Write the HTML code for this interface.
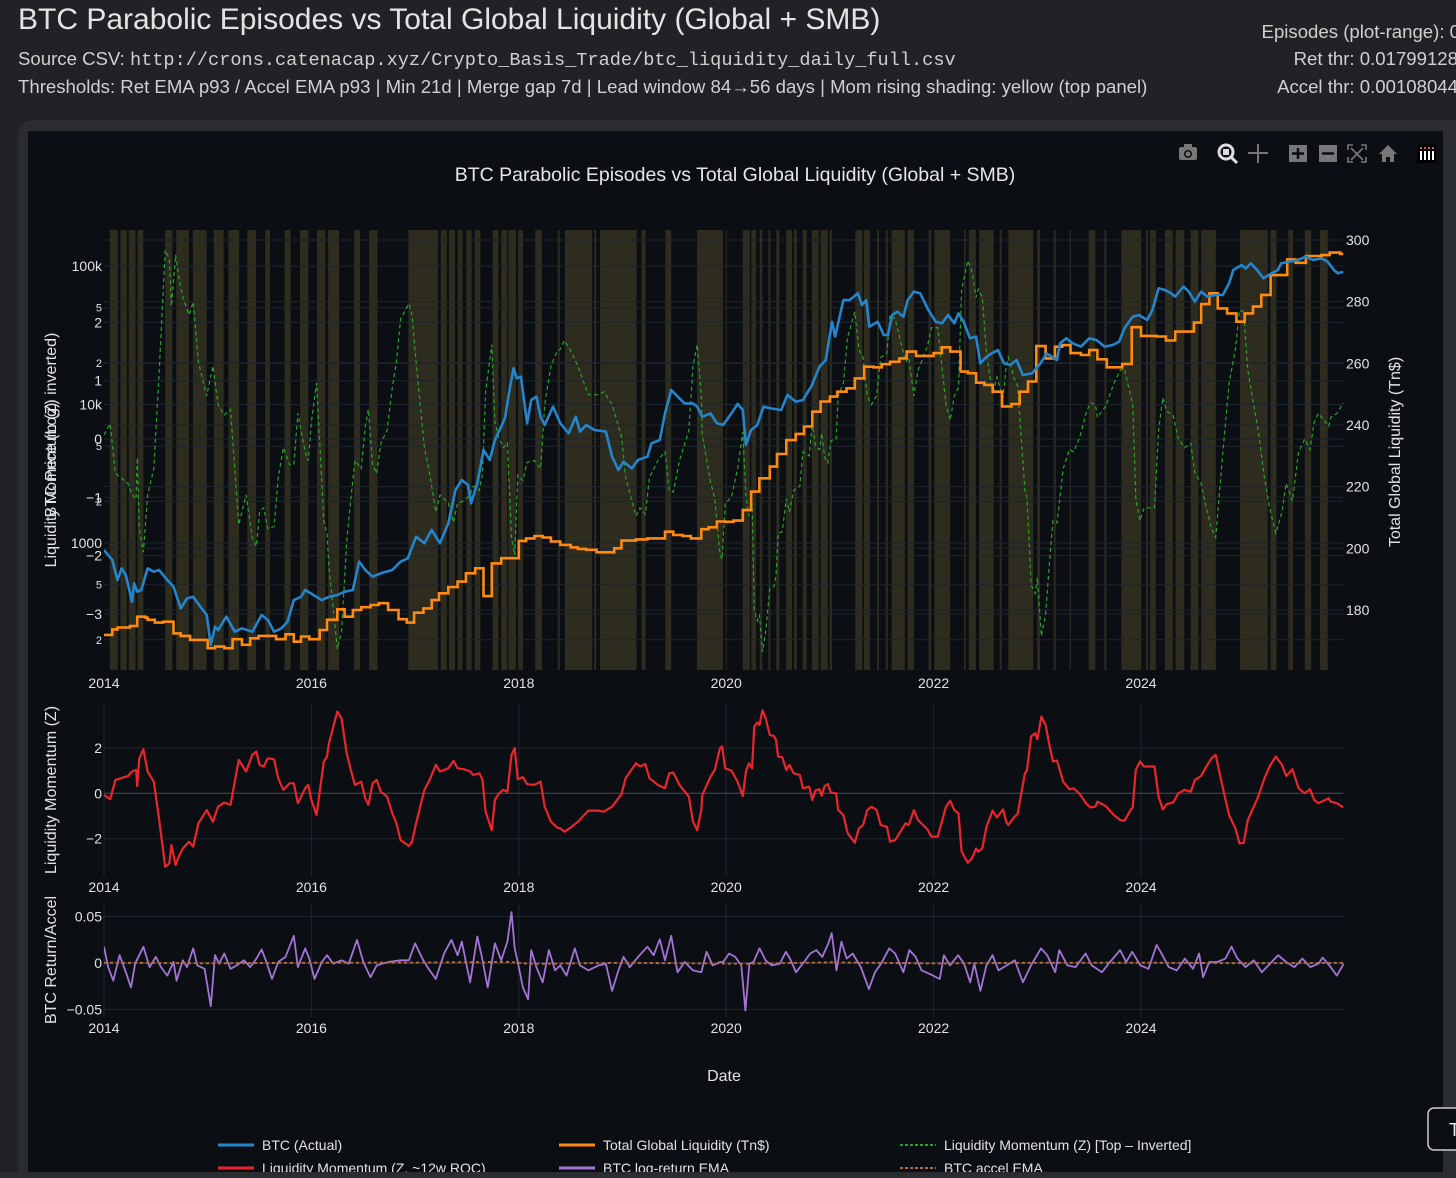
<!DOCTYPE html>
<html><head><meta charset="utf-8"><style>
html,body{margin:0;padding:0;background:#212226;width:1456px;height:1178px;overflow:hidden;font-family:"Liberation Sans",sans-serif;}
.hdr{position:absolute;color:#e4e4e4;white-space:nowrap;}
.mono{font-family:"Liberation Mono",monospace;}
</style></head><body>
<div class="hdr" style="left:18px;top:3px;font-size:30px;">BTC Parabolic Episodes vs Total Global Liquidity (Global + SMB)</div>
<div class="hdr" style="left:18px;top:48px;font-size:18.6px;color:#d0d0d0;">Source CSV: <span class="mono">http://crons.catenacap.xyz/Crypto_Basis_Trade/btc_liquidity_daily_full.csv</span></div>
<div class="hdr" style="left:18px;top:76px;font-size:18.6px;color:#d0d0d0;">Thresholds: Ret EMA p93 / Accel EMA p93 | Min 21d | Merge gap 7d | Lead window 84→56 days | Mom rising shading: yellow (top panel)</div>
<div class="hdr" style="right:-4px;top:21px;font-size:18.6px;color:#d0d0d0;text-align:right;">Episodes (plot-range): 0</div>
<div class="hdr" style="right:-2px;top:48px;font-size:18.6px;color:#d0d0d0;text-align:right;">Ret thr: 0.01799128</div>
<div class="hdr" style="right:-2px;top:76px;font-size:18.6px;color:#d0d0d0;text-align:right;">Accel thr: 0.00108044</div>

<svg id="chart" width="1456" height="1178" style="position:absolute;left:0;top:0;" xmlns="http://www.w3.org/2000/svg">
<rect x="18" y="120" width="1460" height="1080" rx="14" fill="#2a2c30"/>
<rect x="28" y="131" width="1415" height="1041" fill="#0b0f14"/>
<defs>
<clipPath id="cTop"><rect x="104" y="230" width="1240" height="440"/></clipPath>
<clipPath id="cMid"><rect x="104" y="703" width="1240" height="174"/></clipPath>
<clipPath id="cBot"><rect x="104" y="905" width="1240" height="112"/></clipPath>
</defs>
<text x="735" y="181" text-anchor="middle" font-size="19.5" fill="#e6e6e6">BTC Parabolic Episodes vs Total Global Liquidity (Global + SMB)</text>
<g id="toolbar" fill="#777">
 <g><rect x="1179" y="147" width="18" height="13" rx="2"/><rect x="1184" y="144" width="8" height="4"/><circle cx="1188" cy="154" r="4" fill="#0b0f14"/><circle cx="1188" cy="154" r="2.5"/></g>
 <g><circle cx="1226" cy="152" r="7" fill="none" stroke="#ddd" stroke-width="3"/><rect x="1223" y="149" width="6" height="6" fill="#ddd"/><line x1="1231" y1="157" x2="1237" y2="163" stroke="#ddd" stroke-width="3"/></g>
 <g><line x1="1258" y1="144" x2="1258" y2="163" stroke="#777" stroke-width="2"/><line x1="1248" y1="153" x2="1268" y2="153" stroke="#777" stroke-width="2"/></g>
 <g><rect x="1289" y="145" width="18" height="17"/><path d="M1298 148v11M1292 153.5h12" stroke="#0b0f14" stroke-width="2.5"/></g>
 <g><rect x="1319" y="145" width="18" height="17"/><path d="M1322 153.5h12" stroke="#0b0f14" stroke-width="2.5"/></g>
 <g fill="none" stroke="#777" stroke-width="1.6"><path d="M1348 150v-5h5M1361 145h5v5M1366 157v5h-5M1353 162h-5v-5M1351 148l12 12M1363 148l-12 12"/></g>
 <g><path d="M1379 154l9-9 9 9h-3v8h-4v-5h-4v5h-4v-8z"/></g>
 <g><rect x="1417" y="144" width="19" height="19" fill="#000"/><rect x="1420" y="151" width="2" height="9" fill="#fff"/><rect x="1424" y="151" width="2" height="9" fill="#fff"/><rect x="1428" y="151" width="2" height="9" fill="#fff"/><rect x="1432" y="151" width="2" height="9" fill="#fff"/><rect x="1420" y="147" width="2" height="2" fill="#e0457b"/><rect x="1424" y="147" width="2" height="2" fill="#e0457b"/><rect x="1428" y="147" width="2" height="2" fill="#e0457b"/><rect x="1432" y="147" width="2" height="2" fill="#e0457b"/></g>
</g>
<g id="shading" clip-path="url(#cTop)"></g>
<g id="grid"></g>
<g id="series"></g>
<g id="axes"></g>
<g id="legend"></g>
<rect x="0" y="1172" width="1456" height="6" fill="#2a2c30"/>
<g><rect x="1428" y="1108" width="40" height="42" rx="6" fill="#0b0f14" stroke="#ccc" stroke-width="1.5"/><text x="1449" y="1136" font-size="18" fill="#eee">T</text></g>
</svg>
<script>
// ---- data ----
const years = [2014,2016,2018,2020,2022,2024];
const btcTickVals = [1000,10000,100000];
const btcTickLabels = ["1000","10k","100k"];
const btcMinorVals = [200,500,2000,5000,20000,50000];
const btcMinorLabels = ["2","5","2","5","2","5"];
const momTopTicks = [2,1,0,-1,-2,-3];
const liqTicks = [180,200,220,240,260,280,300];
const momMidTicks = [2,0,-2];
const retTicks = [0.05,0,-0.05];
const retTickLabels = ["0.05","0","−0.05"];

const btcX = [2014.00,2014.08,2014.13,2014.17,2014.21,2014.27,2014.29,2014.32,2014.36,2014.42,
2014.48,2014.53,2014.61,2014.67,2014.74,2014.80,2014.86,2014.93,2014.99,2015.03,
2015.07,2015.10,2015.18,2015.26,2015.33,2015.43,2015.52,2015.58,2015.64,2015.71,
2015.77,2015.83,2015.90,2015.94,2016.02,2016.10,2016.17,2016.25,2016.32,2016.40,
2016.46,2016.52,2016.59,2016.67,2016.78,2016.86,2016.93,2017.01,2017.09,2017.16,
2017.24,2017.32,2017.39,2017.45,2017.51,2017.54,2017.60,2017.66,2017.72,2017.77,
2017.83,2017.87,2017.91,2017.95,2017.98,2018.02,2018.08,2018.12,2018.17,2018.21,
2018.25,2018.33,2018.40,2018.48,2018.55,2018.59,2018.65,2018.73,2018.84,2018.90,
2018.96,2019.01,2019.09,2019.15,2019.24,2019.28,2019.36,2019.41,2019.47,2019.55,
2019.60,2019.68,2019.72,2019.77,2019.85,2019.91,
2019.97,2020.05,2020.11,2020.16,2020.19,2020.24,2020.30,2020.36,2020.43,2020.53,
2020.59,2020.67,2020.74,2020.82,2020.90,2020.96,2021.02,2021.05,2021.13,2021.19,
2021.23,2021.27,2021.31,2021.35,2021.38,2021.46,2021.52,2021.56,2021.60,2021.65,
2021.71,2021.75,2021.81,2021.87,2021.95,2022.02,2022.08,2022.14,2022.20,2022.24,
2022.29,2022.35,2022.41,2022.45,2022.51,2022.56,2022.62,2022.68,2022.74,2022.80,
2022.86,2022.95,2023.03,2023.09,2023.19,2023.22,2023.28,2023.34,2023.42,2023.50,
2023.57,2023.65,2023.73,2023.79,2023.84,2023.92,2023.98,2024.06,2024.11,2024.17,
2024.23,2024.29,2024.33,2024.41,2024.46,2024.52,2024.58,2024.64,2024.72,2024.79,
2024.85,2024.89,2024.97,2025.01,2025.06,2025.12,2025.18,2025.26,2025.32,2025.35,
2025.43,2025.51,2025.59,2025.66,2025.74,2025.80,2025.86,2025.90,2025.95];
const btcV = [890,753,541,656,588,377,512,445,458,656,
621,638,541,484,337,398,409,347,302,183,
249,235,294,229,242,229,302,278,229,242,
270,387,409,458,421,387,409,421,445,458,
733,638,571,604,638,733,775,1111,995,1242,
995,1387,2414,2851,2624,1934,2698,4694,3981,5546,
6918,8166,12735,18245,15449,15885,7311,10765,11400,8166,
7112,9638,7311,6194,8166,6368,7112,6546,6368,4200,
3365,3866,3459,3981,4200,5248,5546,8630,12735,11066,
10186,10186,9638,8166,8630,7311,
7112,8630,10093,9120,5105,6546,7112,9638,9376,9120,
11722,10471,10765,13459,18750,20941,39628,30903,56754,56754,
60117,63533,52240,56754,36475,39628,31769,31769,44259,46774,
43053,56754,65313,63533,48084,39628,38548,44259,38548,45499,
39628,30061,30903,19815,22131,23388,24717,19815,19275,20941,
16331,16788,19815,23388,20941,27669,30061,27669,26182,30061,
29242,26182,26915,28445,35481,43053,44259,40738,48084,69024,
67143,63533,60117,70958,65313,55208,65313,60117,61802,61802,
74989,93541,101625,96161,104472,93541,81470,88512,93541,104472,
107399,110408,116681,110408,113501,107399,93541,88512,90991];

const liqX = [2014.00,2014.08,2014.13,2014.25,2014.32,2014.40,2014.42,2014.49,2014.57,2014.67,
2014.74,2014.83,2015.00,2015.07,2015.16,2015.24,2015.33,2015.41,2015.49,2015.66,
2015.75,2015.83,2015.90,2015.98,2016.08,2016.15,2016.25,2016.32,2016.40,2016.48,
2016.57,2016.65,2016.74,2016.84,2016.92,2016.99,2017.08,2017.16,2017.23,2017.32,
2017.41,2017.49,2017.58,2017.66,2017.74,2017.83,2018.00,2018.07,2018.15,2018.23,
2018.31,2018.40,2018.50,2018.57,2018.65,2018.75,2018.92,2018.99,2019.13,2019.24,
2019.41,2019.49,2019.58,2019.66,2019.76,2019.83,2019.91,
2019.99,2020.07,2020.16,2020.24,2020.32,2020.42,2020.49,2020.58,2020.67,2020.75,
2020.83,2020.91,2021.00,2021.07,2021.16,2021.24,2021.33,2021.42,2021.50,2021.58,
2021.67,2021.74,2021.83,2021.91,2022.00,2022.08,2022.16,2022.26,2022.33,2022.41,
2022.49,2022.57,2022.66,2022.75,2022.83,2022.91,2022.99,2023.08,2023.17,2023.24,
2023.32,2023.42,2023.50,2023.58,2023.67,2023.82,2023.91,2024.00,2024.15,2024.24,
2024.33,2024.41,2024.51,2024.58,2024.66,2024.74,2024.83,2024.92,2025.00,2025.08,
2025.16,2025.25,2025.41,2025.49,2025.59,2025.74,2025.82,2025.92];
const liqV = [171.9,173.7,174.3,174.8,177.8,177.5,176.8,175.9,176.2,172.4,
171.6,170.3,167.6,168.1,167.6,170.5,168.7,170.8,171.6,170.5,
172.1,169.7,171.4,170.5,173.5,176.8,180.2,177.8,180.0,180.9,
181.6,182.2,180.0,177.0,175.9,179.1,180.5,183.2,185.4,187.4,
189.2,191.9,193.5,184.5,195.1,196.8,202.4,203.2,204.0,203.5,
202.2,201.1,200.3,199.8,199.5,198.7,200.0,202.5,202.9,203.2,
205.4,204.3,204.0,203.2,206.2,206.8,208.7,
208.6,209.0,212.4,218.4,222.7,226.5,230.6,235.1,237.1,239.5,
244.3,247.6,249.2,250.8,251.9,255.1,258.9,258.7,259.7,260.5,
261.6,263.8,262.4,262.4,263.3,265.2,263.8,257.3,256.8,253.7,
253.0,250.8,246.0,246.8,250.8,254.1,265.6,261.6,265.4,265.9,
263.3,262.7,264.3,261.3,258.7,259.8,271.7,268.9,268.7,267.4,
270.3,270.3,273.2,279.2,282.7,277.8,276.2,273.5,276.2,278.4,
282.2,288.6,293.7,292.6,294.8,295.1,295.9,295.5];
const liqEnd = 2025.95;

const momX = [2014.00,2014.06,2014.11,2014.23,2014.27,2014.31,2014.32,2014.34,2014.38,2014.42,
2014.48,2014.53,2014.59,2014.63,2014.65,2014.69,2014.72,2014.76,2014.82,2014.86,
2014.91,2014.99,2015.05,2015.10,2015.16,2015.22,2015.30,2015.37,2015.43,2015.47,
2015.50,2015.54,2015.58,2015.64,2015.68,2015.73,2015.79,2015.83,2015.87,2015.94,
2015.97,2016.00,2016.05,2016.12,2016.15,2016.17,2016.25,2016.29,2016.34,2016.38,
2016.42,2016.48,2016.52,2016.55,2016.59,2016.63,2016.67,2016.73,2016.78,2016.82,
2016.86,2016.94,2016.97,2017.01,2017.09,2017.14,2017.20,2017.24,2017.32,2017.37,
2017.41,2017.47,2017.53,2017.56,2017.62,2017.65,2017.68,2017.74,2017.77,2017.81,
2017.85,2017.89,2017.93,2017.96,2017.99,2018.04,2018.08,2018.15,2018.21,2018.25,
2018.31,2018.37,2018.40,2018.44,2018.50,2018.57,2018.67,2018.76,2018.82,2018.90,
2018.99,2019.03,2019.13,2019.17,2019.22,2019.26,2019.34,2019.41,2019.45,2019.49,
2019.55,2019.64,2019.68,2019.72,2019.76,2019.77,2019.85,2019.89,2019.94,
2019.96,2019.99,2020.05,2020.11,2020.16,2020.19,2020.22,2020.25,2020.27,2020.30,
2020.32,2020.35,2020.38,2020.42,2020.46,2020.48,2020.50,2020.54,2020.58,2020.61,
2020.65,2020.71,2020.74,2020.80,2020.83,2020.86,2020.90,2020.92,2020.95,2020.98,
2021.01,2021.06,2021.08,2021.13,2021.17,2021.24,2021.28,2021.32,2021.36,2021.40,
2021.45,2021.49,2021.55,2021.58,2021.63,2021.73,2021.76,2021.81,2021.85,2021.90,
2021.94,2021.98,2022.04,2022.12,2022.16,2022.20,2022.24,2022.27,2022.33,2022.37,
2022.41,2022.43,2022.47,2022.51,2022.57,2022.61,2022.67,2022.70,2022.72,2022.78,
2022.81,2022.88,2022.90,2022.94,2022.98,2023.00,2023.04,2023.08,2023.12,2023.15,
2023.19,2023.25,2023.31,2023.35,2023.41,2023.47,2023.51,2023.56,2023.58,2023.66,
2023.74,2023.80,2023.84,2023.90,2023.92,2023.95,2023.99,2024.03,2024.13,2024.17,
2024.21,2024.25,2024.31,2024.36,2024.42,2024.48,2024.52,2024.58,2024.62,2024.68,
2024.72,2024.79,2024.85,2024.91,2024.95,2024.99,2025.03,2025.13,2025.19,2025.24,
2025.30,2025.36,2025.40,2025.46,2025.52,2025.58,2025.63,2025.67,2025.71,2025.81,
2025.83,2025.89,2025.95];
const momV = [-0.07,-0.26,0.59,0.76,0.96,1.03,0.32,1.54,1.94,0.96,
0.51,-1.10,-3.24,-3.09,-2.28,-3.16,-2.79,-2.43,-2.13,-2.35,
-1.32,-0.74,-1.25,-0.59,-0.41,-0.51,1.47,0.96,1.69,1.84,
1.25,1.18,1.54,1.50,0.66,0.15,0.44,0.44,-0.44,0.22,
0.37,-0.29,-0.96,1.40,1.62,2.21,3.60,3.31,1.76,1.03,
0.37,0.51,-0.22,-0.51,0.44,0.59,0.07,-0.15,-0.88,-1.32,
-2.06,-2.32,-2.13,-1.32,0.15,0.59,1.25,0.96,1.10,1.43,
1.10,1.06,0.96,0.81,0.88,0.59,-0.81,-1.62,-0.29,0.00,
0.15,0.07,1.69,1.99,0.62,0.71,0.40,0.37,0.51,-0.59,
-1.25,-1.51,-1.54,-1.69,-1.51,-1.25,-0.76,-0.76,-0.81,-0.59,
-0.04,0.66,1.32,1.18,1.29,0.66,0.37,0.22,0.88,0.91,
0.37,-0.15,-1.25,-1.62,-0.74,-0.07,0.74,1.03,1.99,
2.06,1.10,1.00,0.51,-0.12,0.96,1.32,1.10,2.94,3.12,
3.01,3.65,3.31,2.57,2.53,2.35,1.62,1.59,1.03,1.25,
0.88,0.81,0.22,0.29,-0.29,0.12,0.18,-0.10,0.32,0.41,
0.03,0,-0.74,-0.96,-1.74,-2.18,-1.54,-1.40,-0.74,-0.59,
-0.74,-1.40,-1.47,-2.13,-2.06,-1.32,-1.40,-0.74,-1.18,-1.40,
-1.59,-1.91,-1.91,-0.59,-0.32,-0.74,-0.88,-2.57,-3.06,-2.87,
-2.43,-2.57,-2.43,-1.47,-0.76,-1.06,-0.71,-1.25,-1.40,-1.03,
-0.91,0.88,1.00,2.50,2.65,2.38,3.38,3.01,2.06,1.40,
1.44,0.51,0.18,0.22,-0.03,-0.44,-0.62,-0.59,-0.37,-0.56,
-0.96,-1.18,-1.21,-0.74,-0.62,1.03,1.40,1.18,1.18,-0.15,
-0.71,-0.47,-0.41,0,0.15,0.07,0.59,0.76,1.10,1.54,
1.69,0.22,-0.96,-1.54,-2.21,-2.18,-1.18,-0.15,0.66,1.18,
1.62,1.25,0.76,1.06,0.22,0,0.18,-0.29,-0.44,-0.22,
-0.37,-0.44,-0.62];

const retX = [2014.00,2014.04,2014.09,2014.15,2014.21,2014.26,2014.30,2014.38,2014.44,2014.50,
2014.55,2014.61,2014.67,2014.70,2014.76,2014.80,2014.86,2014.90,2014.97,2015.03,
2015.07,2015.11,2015.16,2015.22,2015.28,2015.35,2015.41,2015.47,2015.52,2015.56,
2015.62,2015.68,2015.75,2015.83,2015.87,2015.94,2015.98,2016.03,2016.10,2016.15,
2016.21,2016.29,2016.36,2016.44,2016.50,2016.57,2016.63,2016.74,2016.86,2016.94,
2017.00,2017.07,2017.13,2017.20,2017.28,2017.35,2017.41,2017.45,2017.53,2017.60,
2017.64,2017.70,2017.77,2017.83,2017.89,2017.93,2017.96,2018.00,2018.04,2018.09,
2018.12,2018.17,2018.23,2018.29,2018.35,2018.40,2018.46,2018.54,2018.59,2018.67,
2018.77,2018.84,2018.90,2018.96,2019.01,2019.07,2019.15,2019.24,2019.30,2019.36,
2019.41,2019.47,2019.53,2019.60,2019.68,2019.76,2019.81,2019.87,2019.94,
2019.970,2020.029,2020.087,2020.146,2020.185,2020.224,2020.263,2020.322,2020.380,2020.439,
2020.517,2020.576,2020.615,2020.673,2020.751,2020.810,2020.869,2020.927,2020.986,2021.017,
2021.064,2021.111,2021.162,2021.220,2021.298,2021.376,2021.435,2021.494,2021.572,2021.630,
2021.708,2021.767,2021.826,2021.884,2021.962,2022.060,2022.099,2022.158,2022.236,2022.294,
2022.353,2022.392,2022.451,2022.509,2022.568,2022.626,2022.704,2022.783,2022.861,2022.939,
2023.036,2023.095,2023.173,2023.212,2023.290,2023.369,2023.466,2023.525,2023.623,2023.701,
2023.798,2023.857,2023.915,2023.994,2024.072,2024.150,2024.189,2024.267,2024.345,2024.423,
2024.501,2024.560,2024.599,2024.658,2024.736,2024.814,2024.873,2024.931,2025.009,2025.087,
2025.165,2025.244,2025.322,2025.400,2025.478,2025.556,2025.634,2025.712,2025.751,2025.829,
2025.888,2025.955];
const retV = [0.0175,-0.0044,-0.019,0.0084,-0.0099,-0.0263,-0.0007,0.0175,-0.0044,0.0066,
-0.0044,-0.0135,0.0011,-0.019,0.0029,-0.0044,0.0157,-0.0026,-0.0062,-0.0464,
0.0084,-0.0007,0.0102,-0.0062,-0.0026,0.0029,-0.0044,0.0047,0.0146,0.0029,
-0.0172,0.0011,0.0066,0.0292,-0.0044,0.0157,0.0047,-0.0172,0.0011,0.0084,
-0.0007,0.0029,-0.0007,0.0248,0.0011,-0.0153,-0.0026,0.0011,0.0029,0.0029,
0.0212,0.0047,-0.0062,-0.0172,0.0102,0.0248,0.0084,0.023,-0.0208,0.0285,
0.0084,-0.0263,0.0212,0.0029,0.023,0.0547,0.0157,-0.0044,-0.0263,-0.039,
0.0139,-0.0044,-0.0208,0.0139,-0.008,-0.0026,-0.0135,0.0157,-0.0026,-0.008,
-0.0026,-0.0007,-0.03,-0.008,0.0066,-0.0044,0.0066,0.0175,0.0084,0.0255,
0.0029,0.0292,-0.0099,0.0011,-0.008,-0.0099,0.012,-0.0026,0.0011,
0.0011,0.0102,0.0066,-0.0026,-0.0511,-0.0007,0.0011,0.0157,0.0029,-0.0026,
-0.0007,0.012,0.0047,-0.0099,0.0011,0.0102,0.0139,0.0066,0.0212,0.0321,
-0.008,0.023,0.0047,0.0102,-0.0044,-0.0281,-0.0099,-0.0007,0.0157,0.0102,
-0.0099,0.0139,0.0066,-0.008,-0.0117,-0.0172,0.0084,-0.0026,0.0084,-0.0007,
-0.0208,-0.0007,-0.0299,-0.0026,0.0084,-0.008,-0.0026,0.0029,-0.0208,-0.0026,
0.0157,0.0084,-0.0099,0.0139,-0.0026,-0.0044,0.0102,-0.0026,-0.0099,0.0011,
0.0139,0.0011,0.012,-0.0026,-0.0062,0.0193,0.012,-0.0044,-0.008,0.0047,
-0.0062,0.0102,-0.0153,0.0011,0.0011,0.0047,0.0175,0.0047,-0.0044,0.0029,
-0.0099,-0.0007,0.0084,0.0011,-0.0044,0.0047,-0.0044,-0.0007,0.0058,-0.0044,
-0.0135,-0.0007];

const accelX = [2014.0,2015.0,2016.0,2017.0,2017.9,2018.1,2019.0,2020.2,2021.0,2022.0,2023.0,2024.0,2025.0,2025.95];
const accelV = [0.0003,-0.0003,0.0002,0.0004,0.0012,-0.001,0.0002,-0.0008,0.0006,-0.0004,0.0002,0.0003,-0.0002,0.0001];

const bandStart = [2014.056,2014.159,2014.239,2014.323,2014.590,2014.697,2014.857,2015.059,2015.200,2015.383,
2015.555,2015.741,2015.890,2016.054,2016.161,2016.412,2016.557,2016.935,2017.247,2017.327,
2017.411,2017.495,2017.575,2017.747,2017.831,2017.899,2017.995,2018.158,2018.376,2018.444,
2018.727,2018.784,2019.184,2019.413,2019.718,2019.995,2020.159,2020.243,2020.323,2020.407,
2020.483,2020.578,2020.654,2020.738,2020.826,2020.910,2020.998,2021.245,2021.329,2021.455,
2021.539,2021.596,2021.749,2021.951,2022.008,2022.294,2022.340,2022.439,2022.637,2022.721,
2022.999,2023.159,2023.312,2023.495,2023.647,2023.811,2024.048,2024.086,2024.231,2024.334,
2024.478,2024.581,2024.955,2025.249,2025.420,2025.580,2025.725];
const bandEnd = [2014.133,2014.220,2014.304,2014.380,2014.659,2014.819,2014.990,2015.154,2015.303,2015.467,
2015.600,2015.799,2015.970,2016.134,2016.268,2016.470,2016.637,2017.221,2017.305,2017.385,
2017.457,2017.545,2017.629,2017.804,2017.888,2017.972,2018.040,2018.223,2018.395,2018.708,
2018.746,2019.135,2019.222,2019.470,2019.968,2020.003,2020.227,2020.288,2020.349,2020.426,
2020.513,2020.635,2020.681,2020.776,2020.891,2020.979,2021.020,2021.314,2021.386,2021.474,
2021.558,2021.722,2021.810,2021.977,2022.160,2022.309,2022.408,2022.580,2022.656,2022.961,
2023.026,2023.178,2023.323,2023.560,2023.666,2024.002,2024.067,2024.143,2024.307,2024.417,
2024.554,2024.722,2025.222,2025.306,2025.466,2025.641,2025.801];

// ---- scales ----
const X0 = 104, PXY = 103.7;
function xS(yr){ return X0 + (yr - 2014) * PXY; }
function yBtc(v){ return 266 + (5 - Math.log10(v)) * 138.5; }
function yLiq(v){ return 240 + (300 - v) * 3.083; }
function yMomTop(z){ return 439 - z * 58.3; }
function yMid(z){ return 793.3 - z * 22.7; }
function yBot(r){ return 963 - r * 930; }
const XR = xS(2025.95);

const NS = "http://www.w3.org/2000/svg";
function mk(tag, attrs, parent){ const e = document.createElementNS(NS, tag); for (const k in attrs) e.setAttribute(k, attrs[k]); parent.appendChild(e); return e; }
const gShade = document.getElementById('shading');
const gGrid = document.getElementById('grid');
const gSer = document.getElementById('series');
const gAx = document.getElementById('axes');
const gLeg = document.getElementById('legend');

// shading
for (let i = 0; i < Math.min(bandStart.length, bandEnd.length); i++) {
  const r = mk('rect', {x: xS(bandStart[i]), y: 230, width: Math.max(1, xS(bandEnd[i]) - xS(bandStart[i])), height: 440, fill: '#2d2c1f'}, gShade);
  
  
}

// grids
function hline(y, x1, x2, c, name){ const l = mk('line', {x1: x1, x2: x2, y1: y, y2: y, stroke: c, 'stroke-width': 1}, gGrid);   }
function vline(x, y1, y2, c, name){ const l = mk('line', {x1: x, x2: x, y1: y1, y2: y2, stroke: c, 'stroke-width': 1}, gGrid);   }
const GC = '#1f252d';
btcTickVals.concat(btcMinorVals).forEach(v => hline(yBtc(v), X0, XR, GC, 'btc-gridline'));
momTopTicks.forEach(v => hline(yMomTop(v), X0, XR, GC, 'momentum-gridline'));
liqTicks.forEach(v => hline(yLiq(v), X0, XR, GC, 'liquidity-gridline'));
years.forEach(yr => { vline(xS(yr), 703, 877, GC, 'mid-x-gridline'); vline(xS(yr), 905, 1017, GC, 'bottom-x-gridline'); });
momMidTicks.forEach(v => { if (v !== 0) hline(yMid(v), X0, XR, GC, 'mid-y-gridline'); });
retTicks.forEach(v => { if (v !== 0) hline(yBot(v), X0, XR, GC, 'bottom-y-gridline'); });
hline(yMid(0), X0, XR, '#4a4f55', 'mid-zero-line');
hline(yBot(0), X0, XR, '#4a4f55', 'bottom-zero-line');

// series helpers
function pathFrom(xs, vs, fy){ const n = Math.min(xs.length, vs.length); let d = ''; for (let i = 0; i < n; i++) d += (i ? 'L' : 'M') + xS(xs[i]).toFixed(1) + ' ' + fy(vs[i]).toFixed(1); return d; }
function stepFrom(xs, vs, fy, end){ const n = Math.min(xs.length, vs.length); let d = ''; for (let i = 0; i < n; i++) { const x = xS(xs[i]).toFixed(1), y = fy(vs[i]).toFixed(1); if (i) d += 'L' + x + ' ' + fy(vs[i-1]).toFixed(1); d += (i ? 'L' : 'M') + x + ' ' + y; } d += 'L' + xS(end).toFixed(1) + ' ' + fy(vs[n-1]).toFixed(1); return d; }

const topG = mk('g', {'clip-path': 'url(#cTop)'}, gSer);
const greenLine = mk('path', {d: pathFrom(momX, momV.map(v => -v), yMomTop), fill: 'none', stroke: '#2ca02c', 'stroke-width': 1.2, 'stroke-dasharray': '4,3'}, topG);


const orangeLine = mk('path', {d: stepFrom(liqX, liqV, yLiq, liqEnd), fill: 'none', stroke: '#ff8a12', 'stroke-width': 2.6}, topG);


const blueLine = mk('path', {d: pathFrom(btcX, btcV, yBtc), fill: 'none', stroke: '#2585cc', 'stroke-width': 2.6, 'stroke-linejoin': 'round'}, topG);



const midG = mk('g', {'clip-path': 'url(#cMid)'}, gSer);
const redLine = mk('path', {d: pathFrom(momX, momV, yMid), fill: 'none', stroke: '#e8262b', 'stroke-width': 2.2, 'stroke-linejoin': 'round'}, midG);



const botG = mk('g', {'clip-path': 'url(#cBot)'}, gSer);
const purpleLine = mk('path', {d: pathFrom(retX, retV, yBot), fill: 'none', stroke: '#a374d6', 'stroke-width': 1.8, 'stroke-linejoin': 'round'}, botG);


const brownLine = mk('path', {d: pathFrom(accelX, accelV, yBot), fill: 'none', stroke: '#b06a4a', 'stroke-width': 2, 'stroke-dasharray': '3,3'}, botG);



// axis labels
function txt(x, y, s, size, anchor, name, rot){ const t = mk('text', {x: x, y: y, 'font-size': size, fill: '#e2e2e2', 'text-anchor': anchor}, gAx); if (rot) t.setAttribute('transform', 'rotate(-90 ' + x + ' ' + y + ')'); t.textContent = s;   return t; }
years.forEach(yr => { const s = String(yr); txt(xS(yr), 688, s, 14, 'middle', 'top-x-tick'); txt(xS(yr), 892, s, 14, 'middle', 'mid-x-tick'); txt(xS(yr), 1033, s, 14, 'middle', 'bottom-x-tick'); });
btcTickVals.forEach((v, i) => txt(102, yBtc(v) + 5, btcTickLabels[i], 14, 'end', 'btc-y-tick'));
btcMinorVals.forEach((v, i) => txt(102, yBtc(v) + 4, btcMinorLabels[i], 11, 'end', 'btc-y-minor-tick'));
momTopTicks.forEach(v => txt(102, yMomTop(v) + 5, v < 0 ? '−' + Math.abs(v) : String(v), 14, 'end', 'momentum-y-tick'));
liqTicks.forEach(v => txt(1346, yLiq(v) + 5, String(v), 14, 'start', 'liquidity-y-tick'));
momMidTicks.forEach(v => txt(102, yMid(v) + 5, v < 0 ? '−' + Math.abs(v) : String(v), 14, 'end', 'mid-y-tick'));
retTicks.forEach((v, i) => txt(102, yBot(v) + 5, retTickLabels[i], 14, 'end', 'bottom-y-tick'));
txt(56, 450, 'Liquidity Momentum (Z) inverted)', 16, 'middle', 'top-y-axis-title-momentum', true);
txt(56, 460, 'BTC Price (Log)', 16, 'middle', 'top-y-axis-title-btc', true);
txt(1400, 452, 'Total Global Liquidity (Tn$)', 16, 'middle', 'right-y-axis-title', true);
txt(56, 790, 'Liquidity Momentum (Z)', 16, 'middle', 'mid-y-axis-title', true);
txt(56, 960, 'BTC Return/Accel', 16, 'middle', 'bottom-y-axis-title', true);
txt(724, 1081, 'Date', 16, 'middle', 'x-axis-title');

// legend
const legNames = ['BTC (Actual)','Total Global Liquidity (Tn$)','Liquidity Momentum (Z) [Top – Inverted]','Liquidity Momentum (Z, ~12w ROC)','BTC log-return EMA','BTC accel EMA'];
const legColors = ['#2585cc','#ff8a12','#2ca02c','#e8262b','#a374d6','#b06a4a'];
const legDash = ['', '', '3,2', '', '', '3,2'];
const legCols = [218, 559, 900];
legNames.forEach((nm, i) => {
  const x = legCols[i % 3], y = i < 3 ? 1145 : 1168;
  const g = mk('g', {}, gLeg);
  
  
  mk('line', {x1: x, x2: x + 36, y1: y, y2: y, stroke: legColors[i], 'stroke-width': legDash[i] ? 2 : 3, 'stroke-dasharray': legDash[i]}, g);
  const t = mk('text', {x: x + 44, y: y + 5, 'font-size': 14, fill: '#e2e2e2'}, g);
  t.textContent = nm;
});
</script>
</body></html>
